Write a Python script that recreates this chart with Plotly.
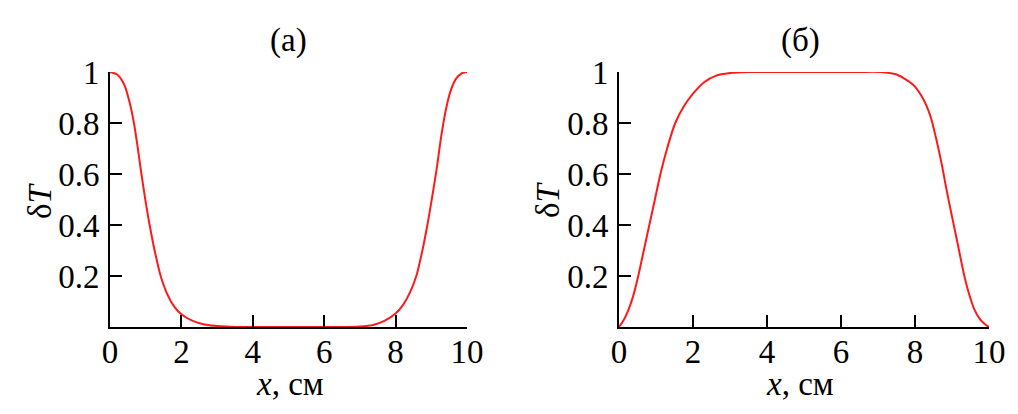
import plotly.graph_objects as go
from plotly.subplots import make_subplots

# panel (а): dT(x)
xa = [0, 0.2, 0.4, 0.55, 0.67, 0.77, 0.88, 1.0, 1.11, 1.25, 1.42, 1.6, 1.8, 2.0, 2.3, 2.65, 3.0, 3.5,
      4, 5, 6, 6.5, 7.0, 7.37, 7.7, 8.0, 8.2, 8.4, 8.58, 8.75, 8.89, 9.0, 9.15, 9.28, 9.42,
      9.55, 9.7, 9.85, 10]
ya = [1.0, 0.99, 0.95, 0.88, 0.80, 0.71, 0.60, 0.49, 0.40, 0.30, 0.20, 0.13, 0.08, 0.05, 0.025, 0.01, 0.004, 0.0,
      0.0, 0.0, 0.0, 0.0, 0.002, 0.008, 0.025, 0.053, 0.085, 0.135, 0.20, 0.30, 0.40, 0.49, 0.62, 0.75, 0.86,
      0.93, 0.975, 0.995, 1.0]

# panel (б)
xb = [0, 0.12, 0.25, 0.38, 0.52, 0.67, 0.82, 0.97, 1.12, 1.3, 1.52, 1.75, 2.0, 2.3, 2.61, 3.0, 3.5,
      4, 5, 6, 6.5, 7.05, 7.5, 7.95, 8.2, 8.41, 8.57, 8.72, 8.85, 8.99, 9.12, 9.26, 9.35, 9.44,
      9.6, 9.76, 9.9, 10]
yb = [0.0, 0.025, 0.065, 0.12, 0.2, 0.3, 0.4, 0.5, 0.6, 0.7, 0.8, 0.865, 0.915, 0.96, 0.985, 0.996, 1.0,
      1.0, 1.0, 1.0, 1.0, 1.0, 0.99, 0.95, 0.9, 0.83, 0.74, 0.64, 0.54, 0.44, 0.35, 0.25, 0.19, 0.14,
      0.07, 0.03, 0.01, 0.0]

yticks = [0.2, 0.4, 0.6, 0.8, 1]
ytext = ["0.2", "0.4", "0.6", "0.8", "1"]
xticks = [0, 2, 4, 6, 8, 10]

W, H = 1018, 414
OFF = 8  # page offset of the plot div
font = "Liberation Serif, Times New Roman, serif"
FS = 33

fig = make_subplots(rows=1, cols=2)
fig.add_trace(go.Scatter(x=xa, y=ya, mode="lines", line=dict(color="#ff1a1a", width=2, shape="spline", smoothing=0.8)), row=1, col=1)
fig.add_trace(go.Scatter(x=xb, y=yb, mode="lines", line=dict(color="#ff1a1a", width=2, shape="spline", smoothing=0.8)), row=1, col=2)

ax = dict(showgrid=False, zeroline=False, showline=True, linecolor="black", linewidth=2,
          ticks="inside", ticklen=12, tickwidth=2, tickcolor="black", automargin=False,
          tickfont=dict(family=font, size=FS, color="black"))
fig.update_xaxes(range=[0, 10], tickvals=xticks, ticklabelstandoff=-6, **ax)
fig.update_yaxes(range=[0, 1], tickvals=yticks, ticktext=ytext, ticklabelstandoff=2, **ax)

def px(x):
    return (x - OFF) / W

def py(y):
    return 1 - (y - OFF) / H

ydom = [py(327), py(72)]
fig.update_layout(
    xaxis=dict(domain=[px(110), px(467)]),
    xaxis2=dict(domain=[px(619), px(989)]),
    yaxis=dict(domain=ydom),
    yaxis2=dict(domain=ydom),
    width=W, height=H,
    margin=dict(l=0, r=0, t=0, b=0),
    plot_bgcolor="white", paper_bgcolor="white",
    showlegend=False,
    font=dict(family=font, size=FS, color="black"),
)

def note(text, x, y, angle=0):
    fig.add_annotation(text=text, x=px(x), y=py(y), xref="paper", yref="paper",
                       showarrow=False, textangle=angle, xanchor="center", yanchor="middle",
                       font=dict(family=font, size=FS, color="black"))

note("(а)", 288, 40)
note("(б)", 800, 40)
note("<i>x</i>, см", 290, 384)
note("<i>x</i>, см", 800, 384)
note("δ<i>T</i>", 40, 200, -90)
note("δ<i>T</i>", 548, 200, -90)

fig.write_html("out.html")
